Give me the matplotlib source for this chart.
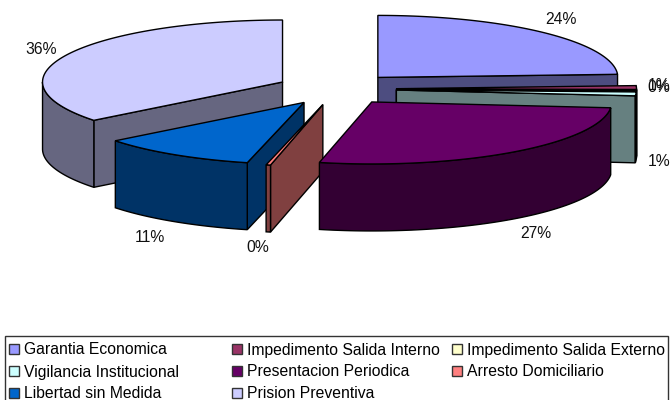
import numpy as np
import matplotlib
matplotlib.use('Agg')
import matplotlib.pyplot as plt
from matplotlib.patches import Polygon, Rectangle

plt.rcParams['font.family'] = ['Liberation Sans', 'DejaVu Sans']

categories = ['Garantia Economica', 'Impedimento Salida Interno', 'Impedimento Salida Externo',
              'Vigilancia Institucional', 'Presentacion Periodica', 'Arresto Domiciliario',
              'Libertad sin Medida', 'Prision Preventiva']
values = [24.2, 1.0, 0.3, 1.0, 27.0, 0.3, 10.6, 35.6]
top_colors = ['#9999FF', '#993366', '#FFFFCC', '#CCFFFF', '#660066', '#FF8080', '#0066CC', '#CCCCFF']
side_colors = ['#4D4D80', '#4D1A33', '#808066', '#668080', '#330033', '#804040', '#003366', '#666680']

# pie geometry in pixels
CX, CY = 336.5, 89
RX, RY = 240, 62
EX, EY = 60, 16
DEPTH = 67

# back to front
draw_order = [0, 7, 1, 2, 3, 6, 5, 4]
label_pos = [(561, 19), (659, 85), (659, 88), (659, 161), (536, 234), (258, 248), (150, 238), (41, 50)]


def point(deg, ox, oy):
    a = np.radians(deg)
    return ox + RX * np.sin(a), oy - RY * np.cos(a)


def draw_slice(ax, a0, a1, top, side):
    mid = np.radians((a0 + a1) / 2)
    ox = CX + EX * np.sin(mid)
    oy = CY - EY * np.cos(mid)

    # radial walls facing the viewer
    for ang, show in ((a0, np.sin(np.radians(a0)) < 0), (a1, np.sin(np.radians(a1)) > 0)):
        if show:
            x, y = point(ang, ox, oy)
            ax.add_patch(Polygon([(ox, oy), (x, y), (x, y + DEPTH), (ox, oy + DEPTH)],
                                 closed=True, fc=side, ec='black', lw=1))

    # outer rim, front half only
    lo, hi = max(a0, 90), min(a1, 270)
    if hi > lo:
        t = np.linspace(lo, hi, 80)
        x, y = point(t, ox, oy)
        pts = list(zip(x, y)) + list(zip(x[::-1], y[::-1] + DEPTH))
        ax.add_patch(Polygon(pts, closed=True, fc=side, ec='black', lw=1))

    t = np.linspace(a0, a1, 120)
    x, y = point(t, ox, oy)
    ax.add_patch(Polygon([(ox, oy)] + list(zip(x, y)), closed=True, fc=top, ec='black', lw=1))


fig = plt.figure(figsize=(6.7, 4), dpi=100)
ax = fig.add_axes([0, 0, 1, 1])
ax.set_xlim(0, 670)
ax.set_ylim(400, 0)
ax.axis('off')

edges = np.cumsum([0] + values) / sum(values) * 360
for i in draw_order:
    draw_slice(ax, edges[i], edges[i + 1], top_colors[i], side_colors[i])

for i, v in enumerate(values):
    ax.text(label_pos[i][0], label_pos[i][1], '%d%%' % round(v), fontsize=11.3,
            color='#111111', ha='center', va='center')

# legend, the box runs off the bottom of the picture
ax.add_patch(Rectangle((5, 336), 663, 80, fc='white', ec='#333333', lw=1))
col_x = [9, 232, 452]
row_y = [349, 371, 393]
for i, name in enumerate(categories):
    x = col_x[i % 3]
    y = row_y[i // 3]
    ax.add_patch(Rectangle((x, y - 5), 10, 10, fc=top_colors[i], ec='#333333', lw=1))
    ax.text(x + 15, y + 1, name, fontsize=11.35, color='black', ha='left', va='center')

fig.savefig('out.png', dpi=100)
